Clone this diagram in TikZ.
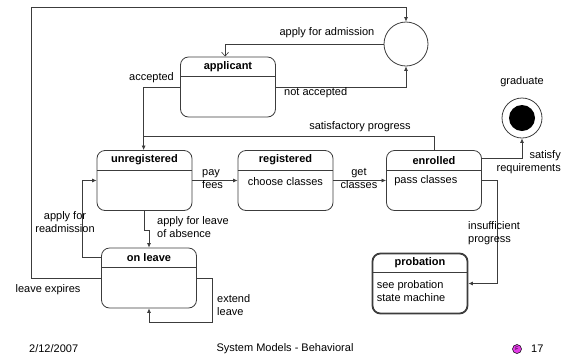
\documentclass[tikz,border=0pt]{standalone}
\usepackage{fontspec}
\setmainfont{Liberation Sans}
\usetikzlibrary{arrows.meta,calc}
\definecolor{lc}{HTML}{3C3C3C}
\definecolor{logo}{HTML}{E23CE6}
\begin{document}
\begin{tikzpicture}[x=1pt,y=-1pt,font=\fontsize{11}{13}\selectfont,
  state/.style={draw=lc,line width=0.8pt,rounded corners=8pt,minimum width=95pt,minimum height=60pt,inner sep=0pt},
  thickstate/.style={state,line width=1.8pt},
  title/.style={font=\fontsize{11}{13}\selectfont\bfseries,inner sep=0pt},
  body/.style={inner sep=0pt,align=left},
  lbl/.style={inner sep=0pt},
  conn/.style={draw=lc,line width=0.7pt},
  arr/.style={conn,-{Latex[length=4.5pt,width=4pt]}},
  openarr/.style={conn,-{Straight Barb[length=4pt,width=7pt,line width=0.6pt]}},
  divider/.style={draw=lc,line width=0.8pt}]
\useasboundingbox (0,0) rectangle (563,360);

% states
\node[state] (applicant) at (228,87) {};
\node[state] (unreg) at (144.5,180.5) {};
\node[state] (reg) at (285.5,180.5) {};
\node[state] (enr) at (434,180.5) {};
\node[state] (onleave) at (149,278) {};
\node[thickstate] (prob) at (420,283.5) {};

\foreach \n/\t in {applicant/applicant,unreg/unregistered,reg/registered,enr/enrolled,onleave/on leave,prob/probation}{
  \node[title] (\n-t) at ($(\n.north)+(0,10)$) {\t};
  \draw[divider] ($(\n.north west)+(0,20)$) -- ($(\n.north east)+(0,20)$);
}
\node[body,anchor=west] (reg-b) at ($(reg.north west)+(10,31)$) {choose classes};
\node[body,anchor=west] (enr-b) at ($(enr.north west)+(8,31)$) {pass classes};
\node[body,anchor=west] (prob-b) at ($(prob.north west)+(5,38)$) {see probation\\state machine};

% pseudo states
\node[circle,draw=lc,line width=0.8pt,minimum size=44pt,inner sep=0pt] (adm) at (406,44) {};
\node[circle,draw=lc,line width=0.8pt,minimum size=40pt,inner sep=0pt] (grad) at (522,118) {};
\node[circle,fill=black,minimum size=26pt,inner sep=0pt] (gradin) at (grad) {};
\node[lbl] (gradl) at (522,82) {graduate};

% helper corners
\coordinate (tl) at (31,7);
\coordinate (sp) at (144,136);

% transitions
\draw[openarr] (adm.west) -| ($(applicant.north west)+(45,0)$);
\draw[arr] (applicant.west) -| ($(unreg.north west)+(47,0)$);
\draw[arr] (applicant.east) -| (adm.south);
\draw[conn] (enr.north) |- (sp);
\draw[arr] (unreg.east) -- (reg.west);
\draw[arr] (reg.east) -- (enr.west);
\draw[arr] ($(enr.north east)+(0,8)$) -| (grad.south);
\draw[arr] (enr.east) -- ++(15,0) |- (prob.east);
\draw[arr] (unreg.south) -- ++(0,19) -| (onleave.north);
\draw[arr] ($(onleave.north west)+(0,10)$) -- ++(-19,0) |- (unreg.west);
\draw[arr] (onleave.west) -| (tl) -| (adm.north);
\draw[arr] (onleave.east) -- ++(15,0) -- ++(0,44) -| (onleave.south);

% labels
\node[lbl] (l-adm) at (327,33) {apply for admission};
\node[lbl,anchor=east] (l-acc) at (174,78) {accepted};
\node[lbl,anchor=west] (l-nacc) at (284,93) {not accepted};
\node[lbl] (l-sat) at (360,127) {satisfactory progress};
\node[lbl,align=left,anchor=west] (l-pay) at (202,179) {pay\\fees};
\node[lbl,align=center] (l-get) at (359,178) {get\\classes};
\node[lbl,align=right,anchor=east] (l-req) at (561,162) {satisfy\\requirements};
\node[lbl,align=left,anchor=west] (l-ins) at (468,233) {insufficient\\progress};
\node[lbl,align=left,anchor=west] (l-leave) at (157,227) {apply for leave\\of absence};
\node[lbl,align=center] (l-readm) at (65,222) {apply for\\readmission};
\node[lbl] (l-exp) at (48,290) {leave expires};
\node[lbl,align=left,anchor=west] (l-ext) at (217,305) {extend\\leave};

% footer
\node[lbl,anchor=west] (f-date) at (29,349) {2/12/2007};
\node[lbl] (f-title) at (285,349) {System Models - Behavioral};
\node[circle,draw=black,line width=0.5pt,fill=logo,minimum size=9pt,inner sep=0pt,font=\fontsize{5}{5}\selectfont] (f-logo) at (517,349) {F};
\node[lbl,anchor=west] (f-page) at (531,349) {17};
\end{tikzpicture}
\end{document}
